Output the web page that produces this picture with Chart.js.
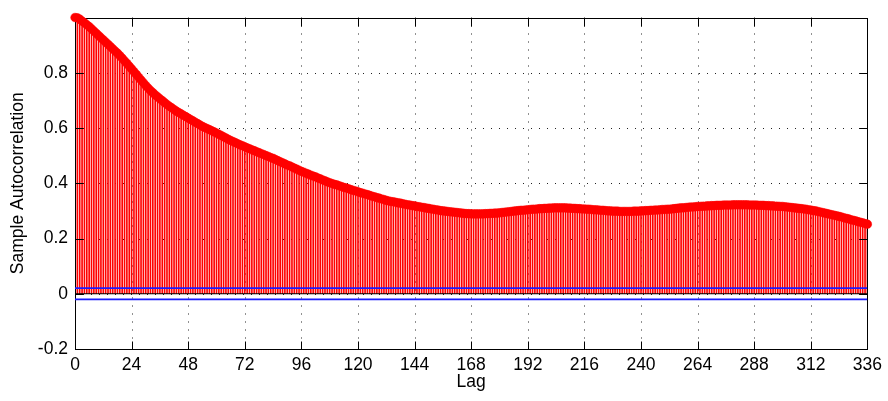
<!DOCTYPE html>
<html>
<head>
<meta charset="utf-8">
<script src="https://cdn.jsdelivr.net/npm/chart.js@4/dist/chart.umd.min.js"></script>
<style>
    html, body { margin: 0; padding: 0; background: #fff; }
    #wrap { width: 888px; height: 401px; }
</style>
</head>
<body>
<div id="wrap"><canvas id="acfChart"></canvas></div>
<script>
// sample autocorrelation, one value per lag (0..336)
const acf = [
    1.000, 0.999, 0.994, 0.987, 0.981, 0.974, 0.967, 0.959, 0.951, 0.943, 0.935, 0.927,
    0.919, 0.911, 0.903, 0.895, 0.887, 0.879, 0.871, 0.862, 0.853, 0.843, 0.834, 0.824,
    0.814, 0.804, 0.794, 0.784, 0.774, 0.764, 0.754, 0.745, 0.736, 0.728, 0.720, 0.713,
    0.706, 0.699, 0.692, 0.685, 0.679, 0.673, 0.667, 0.661, 0.656, 0.651, 0.646, 0.641,
    0.636, 0.631, 0.626, 0.621, 0.616, 0.611, 0.606, 0.602, 0.598, 0.594, 0.590, 0.586,
    0.582, 0.577, 0.573, 0.568, 0.564, 0.559, 0.555, 0.551, 0.547, 0.543, 0.539, 0.536,
    0.532, 0.528, 0.525, 0.521, 0.518, 0.514, 0.511, 0.507, 0.504, 0.500, 0.497, 0.493,
    0.490, 0.486, 0.482, 0.478, 0.474, 0.470, 0.466, 0.463, 0.459, 0.455, 0.451, 0.447,
    0.443, 0.440, 0.436, 0.433, 0.429, 0.426, 0.423, 0.419, 0.416, 0.412, 0.409, 0.405,
    0.402, 0.399, 0.396, 0.394, 0.391, 0.388, 0.385, 0.383, 0.380, 0.377, 0.374, 0.372,
    0.369, 0.366, 0.364, 0.361, 0.359, 0.356, 0.353, 0.351, 0.348, 0.346, 0.343, 0.341,
    0.338, 0.336, 0.334, 0.333, 0.331, 0.329, 0.328, 0.326, 0.324, 0.322, 0.321, 0.319,
    0.318, 0.316, 0.315, 0.313, 0.312, 0.310, 0.309, 0.307, 0.306, 0.304, 0.303, 0.301,
    0.300, 0.299, 0.298, 0.297, 0.296, 0.295, 0.294, 0.293, 0.292, 0.291, 0.290, 0.290,
    0.289, 0.289, 0.289, 0.289, 0.289, 0.289, 0.290, 0.290, 0.291, 0.291, 0.292, 0.292,
    0.293, 0.294, 0.295, 0.296, 0.297, 0.298, 0.299, 0.300, 0.301, 0.302, 0.302, 0.303,
    0.304, 0.305, 0.306, 0.306, 0.307, 0.308, 0.308, 0.309, 0.309, 0.310, 0.310, 0.311,
    0.311, 0.311, 0.311, 0.311, 0.311, 0.310, 0.310, 0.309, 0.309, 0.308, 0.308, 0.307,
    0.307, 0.306, 0.306, 0.305, 0.304, 0.304, 0.303, 0.302, 0.302, 0.301, 0.300, 0.300,
    0.299, 0.299, 0.299, 0.298, 0.298, 0.298, 0.298, 0.298, 0.298, 0.299, 0.299, 0.299,
    0.300, 0.300, 0.301, 0.301, 0.302, 0.302, 0.303, 0.303, 0.304, 0.305, 0.305, 0.306,
    0.306, 0.307, 0.308, 0.309, 0.310, 0.311, 0.311, 0.312, 0.313, 0.314, 0.314, 0.315,
    0.316, 0.316, 0.317, 0.317, 0.318, 0.318, 0.319, 0.319, 0.320, 0.320, 0.320, 0.321,
    0.321, 0.321, 0.321, 0.322, 0.322, 0.322, 0.322, 0.322, 0.322, 0.322, 0.321, 0.321,
    0.321, 0.321, 0.320, 0.320, 0.320, 0.319, 0.319, 0.318, 0.318, 0.317, 0.317, 0.316,
    0.316, 0.315, 0.314, 0.313, 0.312, 0.311, 0.310, 0.309, 0.308, 0.307, 0.306, 0.304,
    0.303, 0.301, 0.300, 0.298, 0.296, 0.294, 0.292, 0.290, 0.288, 0.286, 0.284, 0.282,
    0.280, 0.278, 0.275, 0.273, 0.271, 0.268, 0.266, 0.264, 0.261, 0.259, 0.257, 0.254,
    0.252
];

// confidence bounds and axis ticks
const confBound = 0.0205;
const xTicks = [0, 24, 48, 72, 96, 120, 144, 168, 192, 216, 240, 264, 288, 312, 336];
const yTicks = [-0.2, 0, 0.2, 0.4, 0.6, 0.8];
const xRange = [0, 336];
const yRange = [-0.2, 1.0];

const FONT = '"Liberation Sans", Arial, Helvetica, sans-serif';
const FONT_SIZE = 17.5;

const points = acf.map((v, lag) => ({ x: lag, y: v }));

// MATLAB style axes: dotted grid under the data, box + inward ticks over the stems
const matlabAxes = {
    id: 'matlabAxes',
    beforeDatasetsDraw(chart) {
        const { ctx, chartArea: a, scales: { x, y } } = chart;
        ctx.save();
        ctx.strokeStyle = '#222';
        ctx.lineWidth = 1;
        ctx.setLineDash([1, 7]);
        xTicks.forEach(v => {
            if (v === xRange[0] || v === xRange[1]) return;
            const px = Math.round(x.getPixelForValue(v)) + 0.5;
            ctx.beginPath();
            ctx.moveTo(px, a.top);
            ctx.lineTo(px, a.bottom);
            ctx.stroke();
        });
        yTicks.forEach(v => {
            if (v === yRange[0] || v === yRange[1]) return;
            const py = Math.round(y.getPixelForValue(v)) + 0.5;
            ctx.beginPath();
            ctx.moveTo(a.left, py);
            ctx.lineTo(a.right, py);
            ctx.stroke();
        });
        ctx.restore();
    },
    afterDatasetDraw(chart, args) {
        if (chart.data.datasets[args.index].label !== 'stems') return;
        const { ctx, chartArea: a, scales: { x, y } } = chart;
        const L = Math.round(a.left) + 0.5, R = Math.round(a.right) + 0.5;
        const T = Math.round(a.top) + 0.5, B = Math.round(a.bottom) + 0.5;
        const tick = 8;
        ctx.save();
        ctx.strokeStyle = '#000';
        ctx.lineWidth = 1;
        ctx.beginPath();
        xTicks.forEach(v => {
            const px = Math.round(x.getPixelForValue(v)) + 0.5;
            ctx.moveTo(px, B); ctx.lineTo(px, B - tick);
            ctx.moveTo(px, T); ctx.lineTo(px, T + tick);
        });
        yTicks.forEach(v => {
            const py = Math.round(y.getPixelForValue(v)) + 0.5;
            ctx.moveTo(L, py); ctx.lineTo(L + tick, py);
            ctx.moveTo(R, py); ctx.lineTo(R - tick, py);
        });
        ctx.stroke();
        ctx.strokeRect(L, T, R - L, B - T);
        ctx.restore();
    }
};

new Chart(document.getElementById('acfChart'), {
    data: {
        datasets: [
            {
                type: 'line',
                label: 'markers',
                data: points,
                showLine: false,
                pointRadius: 4.3,
                pointBorderWidth: 0.5,
                pointBackgroundColor: '#ff0000',
                pointBorderColor: '#ff0000',
                clip: false,
                order: 0,
            },
            {
                type: 'line',
                label: 'upper bound',
                data: [{ x: xRange[0], y: confBound }, { x: xRange[1], y: confBound }],
                borderColor: '#1a1aff',
                borderWidth: 1.6,
                pointRadius: 0,
                order: 1,
            },
            {
                type: 'line',
                label: 'lower bound',
                data: [{ x: xRange[0], y: -confBound }, { x: xRange[1], y: -confBound }],
                borderColor: '#1a1aff',
                borderWidth: 1.6,
                pointRadius: 0,
                order: 1,
            },
            {
                type: 'line',
                label: 'baseline',
                data: [{ x: xRange[0], y: 0 }, { x: xRange[1], y: 0 }],
                borderColor: '#000000',
                borderWidth: 1.2,
                pointRadius: 0,
                order: 2,
            },
            {
                type: 'bar',
                label: 'stems',
                data: points,
                backgroundColor: '#ff0000',
                barThickness: 1,
                order: 3,
            },
        ],
    },
    options: {
        responsive: true,
        maintainAspectRatio: false,
        animation: false,
        events: [],
        layout: { padding: { top: 15, right: 19, left: 0, bottom: 0 } },
        plugins: {
            legend: { display: false },
            tooltip: { enabled: false },
        },
        scales: {
            x: {
                type: 'linear',
                offset: false,
                min: xRange[0],
                max: xRange[1],
                afterBuildTicks: s => { s.ticks = xTicks.map(v => ({ value: v })); },
                afterFit: s => { s.height = 52; },
                grid: { display: false, drawTicks: false },
                border: { display: false },
                ticks: {
                    color: '#000',
                    padding: 6,
                    maxRotation: 0,
                    autoSkip: false,
                    font: { family: FONT, size: FONT_SIZE },
                },
                title: {
                    display: true,
                    text: 'Lag',
                    color: '#000',
                    font: { family: FONT, size: FONT_SIZE },
                    padding: { top: 0, bottom: 8 },
                },
            },
            y: {
                min: yRange[0],
                max: yRange[1],
                afterBuildTicks: s => { s.ticks = yTicks.map(v => ({ value: v })); },
                afterFit: s => { s.width = 75; },
                grid: { display: false, drawTicks: false },
                border: { display: false },
                ticks: {
                    color: '#000',
                    padding: 7,
                    font: { family: FONT, size: FONT_SIZE },
                    callback: v => String(+v.toFixed(1)),
                },
                title: {
                    display: true,
                    text: 'Sample Autocorrelation',
                    color: '#000',
                    font: { family: FONT, size: FONT_SIZE },
                    padding: { top: 8, bottom: 0 },
                },
            },
        },
    },
    plugins: [matlabAxes],
});
</script>
</body>
</html>
